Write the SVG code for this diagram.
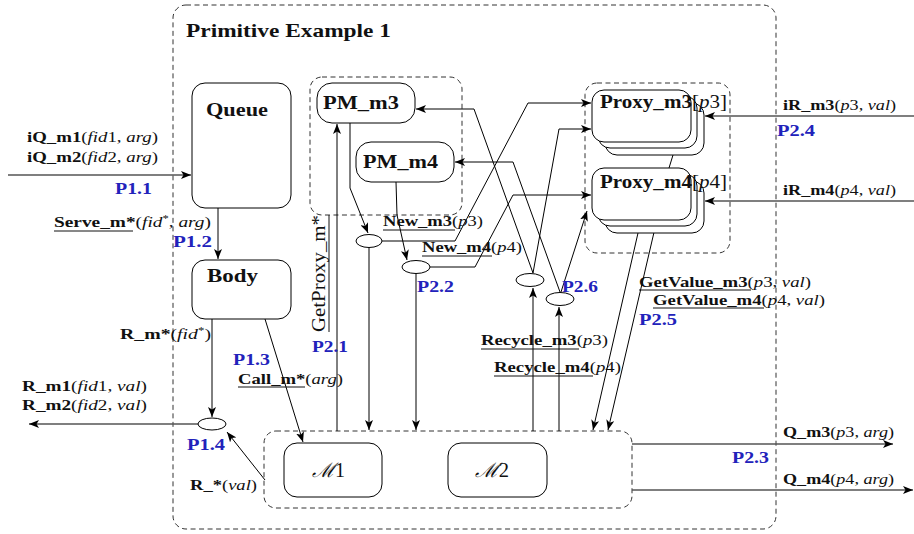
<svg xmlns="http://www.w3.org/2000/svg" width="914" height="534" viewBox="0 0 914 534">
<defs>
<style>
.t{font-family:"Liberation Serif","Times New Roman",serif;fill:#111}
.h{font-size:19px;font-weight:bold}
.l{font-size:15.5px}
.b{font-weight:bold}
.i{font-style:italic}
.p{font-family:"Liberation Serif","Times New Roman",serif;font-size:16px;font-weight:bold;fill:#2222bb}
.box{fill:#fff;stroke:#000;stroke-width:1}
.dash{fill:none;stroke:#333;stroke-width:1;stroke-dasharray:5 3.5}
.c{fill:none;stroke:#000;stroke-width:1}
.g{fill:none;stroke:#555;stroke-width:1.4}
.ul{stroke:#111;stroke-width:1}
.el{fill:#fff;stroke:#000;stroke-width:1}
</style>
<marker id="ah" viewBox="0 0 10 8" refX="10" refY="4" markerWidth="10" markerHeight="8" markerUnits="userSpaceOnUse" orient="auto"><path d="M0,0 L10,4 L0,8 L2.5,4 z" fill="#000"/></marker>
</defs>
<rect width="914" height="534" fill="#fff"/>

<g id="frame">
<rect class="dash" x="173" y="5" width="603" height="524" rx="13"/>
<text class="t h" x="186" y="37" textLength="205" lengthAdjust="spacingAndGlyphs">Primitive Example 1</text>
</g>

<g id="pm-group"><rect class="dash" x="310" y="77" width="152" height="138" rx="12"/></g>
<g id="proxy-group"><rect class="dash" x="585" y="83" width="145" height="170" rx="12"/></g>
<g id="m-group"><rect class="dash" x="264" y="431" width="368" height="77" rx="12"/></g>

<g id="connectors">
<!-- inputs / outputs -->
<line class="g" x1="8" y1="175" x2="191" y2="175" marker-end="url(#ah)"/>
<line class="c" x1="218" y1="208" x2="218" y2="259" marker-end="url(#ah)"/>
<line class="c" x1="212" y1="319" x2="212" y2="417" marker-end="url(#ah)"/>
<line class="g" x1="198" y1="424" x2="29" y2="424" marker-end="url(#ah)"/>
<line class="c" x1="265" y1="480" x2="227" y2="432" marker-end="url(#ah)"/>
<line class="c" x1="265" y1="319" x2="303" y2="442" marker-end="url(#ah)"/>
<!-- GetProxy -->
<line class="c" x1="337" y1="431" x2="337" y2="124" marker-end="url(#ah)"/>
<!-- PM_m3 -> e1 -->
<polyline class="c" points="350,123 350,188 368,233" marker-end="url(#ah)"/>
<line class="c" x1="369" y1="247" x2="369" y2="430" marker-end="url(#ah)"/>
<polyline class="c" points="382,241 455,241 528,103 591,103" marker-end="url(#ah)"/>
<!-- PM_m4 -> e2 -->
<polyline class="c" points="396,182 397,215 407,260" marker-end="url(#ah)"/>
<line class="c" x1="416" y1="274" x2="416" y2="430" marker-end="url(#ah)"/>
<polyline class="c" points="430,267 475,267 513,195 591,195" marker-end="url(#ah)"/>
<!-- e3 -->
<polyline class="c" points="533,273 474,109 416,109" marker-end="url(#ah)"/>
<polyline class="c" points="533,273 559,129 591,129" marker-end="url(#ah)"/>
<line class="c" x1="533" y1="431" x2="533" y2="288" marker-end="url(#ah)"/>
<!-- e4 -->
<polyline class="c" points="560,292 513,162 455,162" marker-end="url(#ah)"/>
<line class="c" x1="561" y1="292" x2="587" y2="211" marker-end="url(#ah)"/>
<line class="c" x1="559" y1="431" x2="559" y2="307" marker-end="url(#ah)"/>
<!-- GetValue -->
<line class="c" x1="638" y1="233" x2="593" y2="430" marker-end="url(#ah)"/>
<line class="c" x1="655" y1="228" x2="608" y2="430" marker-end="url(#ah)"/>
<!-- iR inputs -->
<line class="g" x1="914" y1="116" x2="705" y2="116" marker-end="url(#ah)"/>
<line class="g" x1="914" y1="201" x2="705" y2="201" marker-end="url(#ah)"/>
<!-- Q outputs -->
<line class="g" x1="632" y1="444" x2="893" y2="444" marker-end="url(#ah)"/>
<line class="g" x1="632" y1="490" x2="913" y2="490" marker-end="url(#ah)"/>
<!-- link between proxy stacks -->
<line class="c" x1="673" y1="155" x2="669" y2="168"/>
</g>

<g id="queue">
<rect class="box" x="192" y="83" width="99" height="125" rx="13"/>
<text class="t h" x="206" y="116" textLength="62" lengthAdjust="spacingAndGlyphs">Queue</text>
</g>
<g id="body">
<rect class="box" x="192" y="260" width="99" height="59" rx="13"/>
<text class="t h" x="207" y="282" textLength="51" lengthAdjust="spacingAndGlyphs">Body</text>
</g>
<g id="pm_m3">
<rect class="box" x="317" y="83" width="98" height="40" rx="15"/>
<text class="t h" x="323" y="109" textLength="76" lengthAdjust="spacingAndGlyphs">PM_m3</text>
</g>
<g id="pm_m4">
<rect class="box" x="356" y="142" width="98" height="40" rx="15"/>
<text class="t h" x="363" y="168" textLength="75" lengthAdjust="spacingAndGlyphs">PM_m4</text>
</g>
<g id="proxy_m3">
<rect class="box" x="605" y="103" width="99" height="52" rx="12"/>
<rect class="box" x="598" y="96" width="99" height="52" rx="12"/>
<rect class="box" x="592" y="90" width="99" height="52" rx="12"/>
<text class="t h" x="600" y="108" textLength="127" lengthAdjust="spacingAndGlyphs">Proxy_m3<tspan font-weight="normal">[<tspan class="i">p</tspan>3]</tspan></text>
</g>
<g id="proxy_m4">
<rect class="box" x="605" y="181" width="99" height="52" rx="12"/>
<rect class="box" x="598" y="174" width="99" height="52" rx="12"/>
<rect class="box" x="592" y="168" width="99" height="52" rx="12"/>
<text class="t h" x="600" y="188" textLength="127" lengthAdjust="spacingAndGlyphs">Proxy_m4<tspan font-weight="normal">[<tspan class="i">p</tspan>4]</tspan></text>
</g>
<g id="m1">
<rect class="box" x="284" y="443" width="98" height="54" rx="13"/>
<text class="t" x="312" y="477" font-size="20" font-style="italic" textLength="33" lengthAdjust="spacingAndGlyphs">ℳ<tspan font-style="normal">1</tspan></text>
</g>
<g id="m2">
<rect class="box" x="448" y="443" width="99" height="54" rx="13"/>
<text class="t" x="475" y="477" font-size="20" font-style="italic" textLength="34" lengthAdjust="spacingAndGlyphs">ℳ<tspan font-style="normal">2</tspan></text>
</g>

<g id="e1"><ellipse class="el" cx="369" cy="241" rx="13" ry="6.5"/></g>
<g id="e2"><ellipse class="el" cx="416" cy="267" rx="14" ry="6.5"/></g>
<g id="e3"><ellipse class="el" cx="530" cy="280" rx="14" ry="6.5"/></g>
<g id="e4"><ellipse class="el" cx="560" cy="299" rx="14" ry="6.5"/></g>
<g id="er"><ellipse class="el" cx="212" cy="424" rx="14" ry="6"/></g>

<g id="labels">
<text class="t l" x="27" y="142" textLength="131" lengthAdjust="spacingAndGlyphs"><tspan class="b">iQ_m1</tspan>(<tspan class="i">fid</tspan>1, <tspan class="i">arg</tspan>)</text>
<text class="t l" x="27" y="162" textLength="131" lengthAdjust="spacingAndGlyphs"><tspan class="b">iQ_m2</tspan>(<tspan class="i">fid</tspan>2, <tspan class="i">arg</tspan>)</text>
<text class="p" x="115" y="194" textLength="37" lengthAdjust="spacingAndGlyphs">P1.1</text>
<text class="t l" x="54" y="227" textLength="157" lengthAdjust="spacingAndGlyphs"><tspan class="b">Serve_m*</tspan>(<tspan class="i">fid</tspan><tspan font-size="10" dy="-5">*</tspan><tspan dy="5">, </tspan><tspan class="i">arg</tspan>)</text>
<line class="ul" x1="54" y1="231" x2="133" y2="231"/>
<text class="p" x="173" y="247" textLength="39" lengthAdjust="spacingAndGlyphs">P1.2</text>
<text class="t l" x="120" y="339" textLength="91" lengthAdjust="spacingAndGlyphs"><tspan class="b">R_m*</tspan>(<tspan class="i">fid</tspan><tspan font-size="10" dy="-5">*</tspan><tspan dy="5">)</tspan></text>
<text class="p" x="233" y="365" textLength="37" lengthAdjust="spacingAndGlyphs">P1.3</text>
<text class="t l" x="238" y="384" textLength="105" lengthAdjust="spacingAndGlyphs"><tspan class="b">Call_m*</tspan>(<tspan class="i">arg</tspan>)</text>
<line class="ul" x1="238" y1="387" x2="305" y2="387"/>
<text class="t l" x="22" y="391" textLength="125" lengthAdjust="spacingAndGlyphs"><tspan class="b">R_m1</tspan>(<tspan class="i">fid</tspan>1, <tspan class="i">val</tspan>)</text>
<text class="t l" x="22" y="410" textLength="125" lengthAdjust="spacingAndGlyphs"><tspan class="b">R_m2</tspan>(<tspan class="i">fid</tspan>2, <tspan class="i">val</tspan>)</text>
<text class="p" x="187" y="450" textLength="38" lengthAdjust="spacingAndGlyphs">P1.4</text>
<text class="t l" x="190" y="490" textLength="67" lengthAdjust="spacingAndGlyphs"><tspan class="b">R_*</tspan>(<tspan class="i">val</tspan>)</text>

<text class="t" font-size="18" transform="translate(325,332) rotate(-90)" textLength="117" lengthAdjust="spacingAndGlyphs">GetProxy_m*</text>
<line class="ul" x1="329" y1="215" x2="329" y2="332"/>
<text class="p" x="312" y="352" textLength="36" lengthAdjust="spacingAndGlyphs">P2.1</text>

<text class="t l" x="383" y="226" textLength="100" lengthAdjust="spacingAndGlyphs"><tspan class="b">New_m3</tspan>(<tspan class="i">p</tspan>3)</text>
<line class="ul" x1="383" y1="230" x2="455" y2="230"/>
<text class="t l" x="422" y="252" textLength="100" lengthAdjust="spacingAndGlyphs"><tspan class="b">New_m4</tspan>(<tspan class="i">p</tspan>4)</text>
<line class="ul" x1="422" y1="256" x2="492" y2="256"/>
<text class="p" x="417" y="292" textLength="37" lengthAdjust="spacingAndGlyphs">P2.2</text>
<text class="p" x="562" y="292" textLength="36" lengthAdjust="spacingAndGlyphs">P2.6</text>

<text class="t l" x="481" y="345" textLength="127" lengthAdjust="spacingAndGlyphs"><tspan class="b">Recycle_m3</tspan>(<tspan class="i">p</tspan>3)</text>
<line class="ul" x1="481" y1="349" x2="579" y2="349"/>
<text class="t l" x="494" y="372" textLength="127" lengthAdjust="spacingAndGlyphs"><tspan class="b">Recycle_m4</tspan>(<tspan class="i">p</tspan>4)</text>
<line class="ul" x1="494" y1="376" x2="593" y2="376"/>

<text class="t l" x="639" y="287" textLength="172" lengthAdjust="spacingAndGlyphs"><tspan class="b">GetValue_m3</tspan>(<tspan class="i">p</tspan>3, <tspan class="i">val</tspan>)</text>
<line class="ul" x1="639" y1="290" x2="751" y2="290"/>
<text class="t l" x="653" y="305" textLength="172" lengthAdjust="spacingAndGlyphs"><tspan class="b">GetValue_m4</tspan>(<tspan class="i">p</tspan>4, <tspan class="i">val</tspan>)</text>
<line class="ul" x1="653" y1="308" x2="764" y2="308"/>
<text class="p" x="639" y="325" textLength="38" lengthAdjust="spacingAndGlyphs">P2.5</text>

<text class="t l" x="783" y="110" textLength="113" lengthAdjust="spacingAndGlyphs"><tspan class="b">iR_m3</tspan>(<tspan class="i">p</tspan>3, <tspan class="i">val</tspan>)</text>
<text class="p" x="777" y="136" textLength="38" lengthAdjust="spacingAndGlyphs">P2.4</text>
<text class="t l" x="783" y="195" textLength="113" lengthAdjust="spacingAndGlyphs"><tspan class="b">iR_m4</tspan>(<tspan class="i">p</tspan>4, <tspan class="i">val</tspan>)</text>

<text class="t l" x="783" y="437" textLength="111" lengthAdjust="spacingAndGlyphs"><tspan class="b">Q_m3</tspan>(<tspan class="i">p</tspan>3, <tspan class="i">arg</tspan>)</text>
<text class="p" x="732" y="463" textLength="37" lengthAdjust="spacingAndGlyphs">P2.3</text>
<text class="t l" x="783" y="484" textLength="111" lengthAdjust="spacingAndGlyphs"><tspan class="b">Q_m4</tspan>(<tspan class="i">p</tspan>4, <tspan class="i">arg</tspan>)</text>
</g>
</svg>
